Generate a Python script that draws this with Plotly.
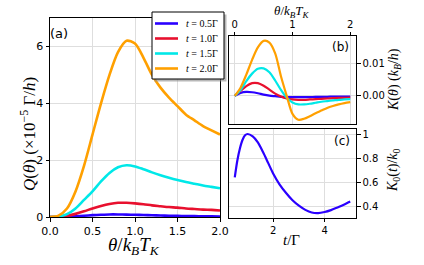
import plotly.graph_objects as go

# ---------------- data ----------------
theta = [0.0, 0.1, 0.2, 0.3, 0.4, 0.5, 0.6, 0.7, 0.8, 0.9, 1.0,
         1.1, 1.2, 1.3, 1.4, 1.5, 1.6, 1.7, 1.8, 1.9, 2.0]
t_labels = ["0.5", "1.0", "1.5", "2.0"]
colors = ["#2a00ff", "#e8102e", "#00e8e8", "#ffa000"]

Q_05 = [0, 0.002, 0.01, 0.025, 0.045, 0.065, 0.08, 0.09, 0.09, 0.085, 0.078,
        0.07, 0.06, 0.052, 0.045, 0.04, 0.035, 0.031, 0.027, 0.024, 0.02]
Q_10 = [0, 0.01, 0.04, 0.11, 0.2, 0.3, 0.39, 0.46, 0.5, 0.5, 0.48,
        0.45, 0.41, 0.38, 0.35, 0.33, 0.3, 0.28, 0.26, 0.25, 0.23]
Q_15 = [0, 0.02, 0.1, 0.3, 0.6, 0.9, 1.25, 1.55, 1.75, 1.82, 1.78,
        1.68, 1.57, 1.47, 1.38, 1.3, 1.23, 1.17, 1.11, 1.06, 1.01]
Q_20 = [0, 0.05, 0.3, 0.9, 1.8, 2.9, 4.0, 5.0, 5.8, 6.2, 6.1,
        5.6, 5.0, 4.55, 4.2, 3.9, 3.6, 3.4, 3.2, 3.05, 2.9]

K_05 = [0, 0.0009, 0.0012, 0.0011, 0.0008, 0.0004, 0.0001, -0.0001, -0.0003, -0.0004, -0.0004,
        -0.0004, -0.0004, -0.0004, -0.0003, -0.0003, -0.0003, -0.0002, -0.0002, -0.0002, -0.0002]
K_10 = [0, 0.0015, 0.003, 0.0039, 0.0039, 0.0031, 0.0019, 0.0007, -0.0002, -0.0008, -0.0011,
        -0.0012, -0.0012, -0.0011, -0.001, -0.0009, -0.0008, -0.0007, -0.0006, -0.0006, -0.0005]
K_15 = [0, 0.0018, 0.0045, 0.0068, 0.0083, 0.0084, 0.0072, 0.0047, 0.0018, -0.0006, -0.002,
        -0.0026, -0.0026, -0.0024, -0.0021, -0.0018, -0.0016, -0.0014, -0.0012, -0.0011, -0.001]
K_20 = [0, 0.0025, 0.0065, 0.011, 0.0148, 0.0168, 0.0163, 0.013, 0.006, 0.0, -0.0055,
        -0.0073, -0.007, -0.0062, -0.0053, -0.0045, -0.0037, -0.0031, -0.0026, -0.0022, -0.0019]

t_vals = [0.5, 0.6, 0.7, 0.8, 0.9, 1.0, 1.2, 1.4, 1.6, 1.8, 2.0, 2.25, 2.5, 2.75,
          3.0, 3.25, 3.5, 3.75, 4.0, 4.25, 4.5, 4.75, 5.0]
K0 = [0.64, 0.78, 0.88, 0.95, 0.99, 1.0, 0.98, 0.93, 0.85, 0.76, 0.67, 0.58, 0.51, 0.45,
      0.405, 0.37, 0.348, 0.343, 0.352, 0.368, 0.39, 0.413, 0.44]

Q_series = [Q_05, Q_10, Q_15, Q_20]
K_series = [K_05, K_10, K_15, K_20]

# ---------------- figure ----------------
W, H = 424, 265
def px_x(p):
    return p / W
def px_y(p):
    return 1 - p / H

fig = go.Figure()

for lab, col, q in zip(t_labels, colors, Q_series):
    fig.add_trace(go.Scatter(x=theta, y=q, mode="lines", name="t = " + lab + "Γ", showlegend=False,
                             line=dict(color=col, width=2.6, shape="spline", smoothing=0.8),
                             xaxis="x", yaxis="y"))
for lab, col, k in zip(t_labels, colors, K_series):
    fig.add_trace(go.Scatter(x=theta, y=k, mode="lines", name="t = " + lab + "Γ", showlegend=False,
                             line=dict(color=col, width=2.2, shape="spline", smoothing=0.8),
                             xaxis="x2", yaxis="y2"))
fig.add_trace(go.Scatter(x=t_vals, y=K0, mode="lines", showlegend=False,
                         line=dict(color=colors[0], width=2.2, shape="spline", smoothing=0.8),
                         xaxis="x3", yaxis="y3"))

grid = "#dedede"
tickfont = dict(family="DejaVu Sans", size=11, color="black")
tickfont_s = dict(family="DejaVu Sans", size=10, color="black")
common = dict(showline=True, linecolor="black", linewidth=1, mirror=True,
              showgrid=True, gridcolor=grid, gridwidth=1, zeroline=False,
              ticks="outside", ticklen=3.5, tickcolor="black", automargin=False)

fig.update_layout(
    width=W, height=H, margin=dict(l=0, r=0, t=0, b=0, autoexpand=False),
    paper_bgcolor="white", plot_bgcolor="white",
    xaxis=dict(domain=[px_x(50), px_x(220)], range=[0, 2], anchor="y",
               tickvals=[0, 0.5, 1.0, 1.5, 2.0], ticktext=["0.0", "0.5", "1.0", "1.5", "2.0"],
               tickfont=tickfont, **common),
    yaxis=dict(domain=[px_y(217), px_y(18)], range=[0, 7], anchor="x",
               tickvals=[0, 2, 4, 6], tickfont=tickfont, **common),
    xaxis2=dict(domain=[px_x(229), px_x(356)], range=[-0.1, 2.1], anchor="y2", side="top",
                tickvals=[0, 1, 2], tickfont=tickfont_s, **common),
    yaxis2=dict(domain=[px_y(124), px_y(36)], range=[-0.0086, 0.0183], anchor="x2", side="right",
                tickvals=[0, 0.01], ticktext=["0.00", "0.01"], tickfont=tickfont_s, **common),
    xaxis3=dict(domain=[px_x(229), px_x(356)], range=[0.275, 5.225], anchor="y3",
                tickvals=[2, 4], tickfont=tickfont_s, **common),
    yaxis3=dict(domain=[px_y(217.7), px_y(129.3)], range=[0.305, 1.039], anchor="x3", side="right",
                tickvals=[0.4, 0.6, 0.8, 1.0], tickfont=tickfont_s, **common),
    showlegend=False,
)

serif = "Liberation Serif"
shapes = []
ann = []

# legend box (with shadow) built from labels / colors
lg_x0, lg_x1, lg_y0, lg_y1 = 152, 224, 12, 79
shapes.append(dict(type="rect", xref="paper", yref="paper",
                   x0=px_x(lg_x0 + 2.5), x1=px_x(lg_x1 + 2.5), y0=px_y(lg_y1 + 2.5), y1=px_y(lg_y0 + 2.5),
                   fillcolor="#888888", line=dict(width=0), opacity=0.6))
shapes.append(dict(type="rect", xref="paper", yref="paper",
                   x0=px_x(lg_x0), x1=px_x(lg_x1), y0=px_y(lg_y1), y1=px_y(lg_y0),
                   fillcolor="white", line=dict(color="black", width=1)))
for i, (lab, col) in enumerate(zip(t_labels, colors)):
    yy = 23.5 + 15 * i
    shapes.append(dict(type="line", xref="paper", yref="paper",
                       x0=px_x(155), x1=px_x(178), y0=px_y(yy), y1=px_y(yy),
                       line=dict(color=col, width=2.6)))
    ann.append(dict(x=px_x(185), y=px_y(yy), xref="paper", yref="paper",
                    xanchor="left", yanchor="middle", borderpad=0,
                    text="<i>t</i> = " + lab + "Γ",
                    font=dict(family=serif, size=10, color="black"), showarrow=False))

def add_text(x, y, text, size, family=serif, angle=0):
    ann.append(dict(x=px_x(x), y=px_y(y), xref="paper", yref="paper", textangle=angle,
                    xanchor="center", yanchor="middle", text=text, borderpad=0,
                    font=dict(family=family, size=size, color="black"), showarrow=False))

add_text(28, 134, "<i>Q</i>(<i>θ</i>) (×10<sup>−5</sup> Γ/<i>h</i>)", 17, angle=-90)
add_text(134, 246, "<i>θ</i>/<i>k</i><sub><i>B</i></sub><i>T</i><sub><i>K</i></sub>", 19)
add_text(292, 12, "<i>θ</i>/<i>k</i><sub><i>B</i></sub><i>T</i><sub><i>K</i></sub>", 13)
add_text(395, 80, "<i>K</i>(<i>θ</i>) (<i>k</i><sub><i>B</i></sub>/<i>h</i>)", 14, angle=-90)
add_text(393, 170, "<i>K</i><sub>0</sub>(<i>t</i>)/<i>k</i><sub>0</sub>", 14, angle=-90)
add_text(291, 240, "<i>t</i>/Γ", 15)
add_text(59, 34, "(a)", 13, family="DejaVu Sans")
add_text(340, 47, "(b)", 12, family="DejaVu Sans")
add_text(342, 141, "(c)", 12, family="DejaVu Sans")

fig.update_layout(annotations=ann, shapes=shapes)

fig.write_html("out.html", config={"displayModeBar": False},
               post_script="document.body.style.margin='0px';document.body.style.padding='0px';")
